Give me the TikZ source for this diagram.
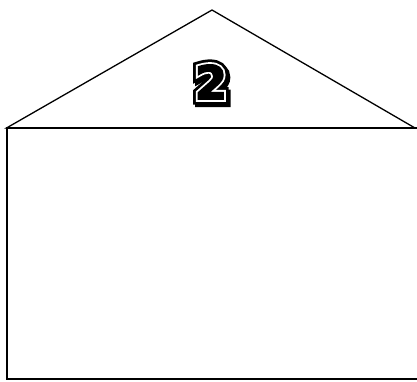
\documentclass[tikz,border=0pt]{standalone}
\usepackage{fontspec}
\newfontfamily\numfont{DejaVu Sans}[FakeBold=4]
\newfontfamily\numrim{DejaVu Sans}[FakeBold=12]
\newfontfamily\numouter{DejaVu Sans}[FakeBold=24]
\begin{document}
\begin{tikzpicture}[x=1pt, y=-1pt,
  roof/.style={line width=1.3pt, line join=miter},
  wall/.style={line width=2pt, line join=miter},
  digit/.style={inner sep=0pt},
]
  \useasboundingbox (0,0) rectangle (417,381);
  \clip (0,0) rectangle (417,381);

  %% Roof
  \coordinate (eaveL) at (6.5,128);
  \coordinate (apex)  at (212,10);
  \coordinate (eaveR) at (415,128);
  \draw[roof] (eaveL) -- (apex) -- (eaveR) -- cycle;

  %% Wall, its right side runs out of the frame
  \coordinate (baseL) at (6.5,379);
  \coordinate (baseR) at (440,379);
  \coordinate (topR)  at (440,128);
  \draw[wall] (topR) -- (eaveL) -- (baseL) -- (baseR);

  %% Number on the roof
  \node[digit, font=\numouter\bfseries\fontsize{46}{46}\selectfont] (shade) at (213,84.5) {2};
  \node[digit, font=\numouter\bfseries\fontsize{46}{46}\selectfont] (outer) at (211,82) {2};
  \node[digit, font=\numrim\bfseries\fontsize{46}{46}\selectfont, text=white] (rim) at (211,82) {2};
  \node[digit, font=\numfont\bfseries\fontsize{46}{46}\selectfont] (two) at (211,82) {2};
\end{tikzpicture}
\end{document}
